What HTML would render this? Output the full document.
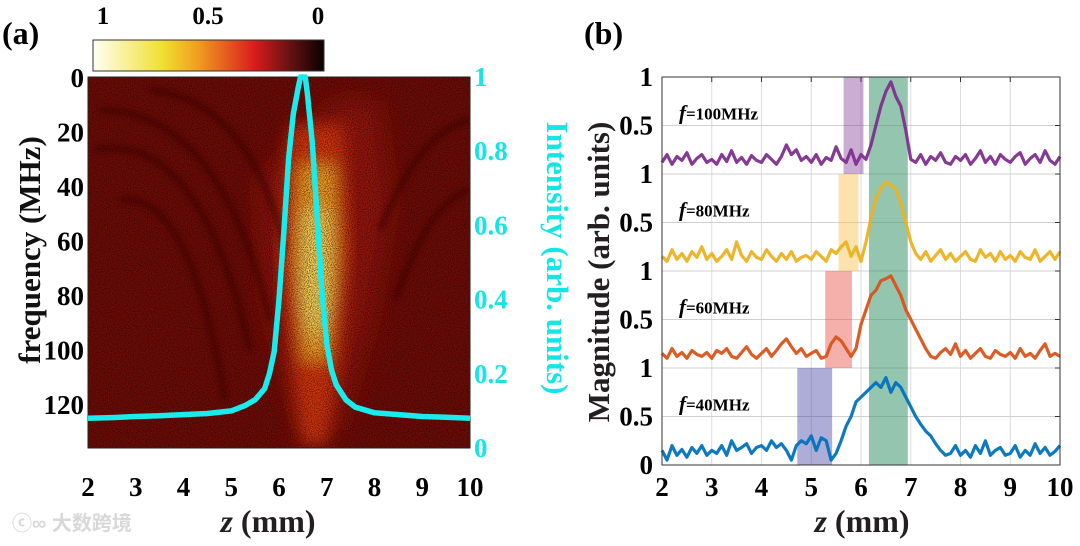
<!DOCTYPE html>
<html><head><meta charset="utf-8">
<style>
html,body{margin:0;padding:0;background:#fff;}
svg{display:block;}
text{font-family:"Liberation Serif","Times New Roman","Tinos","DejaVu Serif",serif;font-weight:bold;}
</style></head>
<body>
<svg id="fig" width="1080" height="546" viewBox="0 0 1080 546">
<defs>
  <linearGradient id="cbar" x1="0" x2="1" y1="0" y2="0">
    <stop offset="0" stop-color="#fffff4"/>
    <stop offset="0.3" stop-color="#f0e030"/>
    <stop offset="0.45" stop-color="#f0a020"/>
    <stop offset="0.7" stop-color="#d81c1c"/>
    <stop offset="0.87" stop-color="#5a1010"/>
    <stop offset="1" stop-color="#0a0000"/>
  </linearGradient>
  <filter id="grain" x="0" y="0" width="1" height="1">
    <feTurbulence type="fractalNoise" baseFrequency="0.95" numOctaves="2" seed="3" result="n"/>
    <feColorMatrix in="n" type="matrix" values="0 0 0 0 0  0 0 0 0 0  0 0 0 0 0  0 0 0 -2.2 1.4" result="a"/>
    <feComposite in="SourceGraphic" in2="a" operator="in"/>
  </filter>
  <filter id="blur8"><feGaussianBlur stdDeviation="8"/></filter>
  <filter id="blur14"><feGaussianBlur stdDeviation="14"/></filter>
  <filter id="blur3"><feGaussianBlur stdDeviation="3"/></filter>
  <clipPath id="clipA"><rect x="88" y="77" width="382" height="371"/></clipPath>
</defs>

<text x="2" y="44" font-size="32">(a)</text>
<rect x="93" y="40" width="231" height="31" fill="url(#cbar)" stroke="#333" stroke-width="1"/>
<g font-size="25" text-anchor="middle">
  <text x="103" y="24">1</text><text x="208" y="24">0.5</text><text x="318" y="24">0</text>
</g>

<g id="heat" clip-path="url(#clipA)">
  <rect x="88" y="77" width="382" height="371" fill="#700d07"/>
  <g filter="url(#blur14)">
    <path d="M335,100 L378,100 L392,200 L372,320 L340,430 L300,430 L265,300 L258,180 Z" fill="#a81c0b" opacity="0.75"/>
  </g>
  <g filter="url(#blur8)">
    <path d="M290,125 L343,125 L350,250 L336,380 L326,445 L302,445 L294,380 L280,250 Z" fill="#d8380e"/>
    <path d="M299,165 L335,165 L338,260 L329,360 L303,360 L295,260 Z" fill="#f5a826"/>
    <path d="M304,210 L328,210 L330,300 L322,335 L309,335 L302,300 Z" fill="#f8e060"/>
  </g>
  <g fill="none" stroke="#3a0503" stroke-width="6" opacity="0.55" filter="url(#blur3)">
    <path d="M95,150 Q200,130 250,350"/>
    <path d="M100,110 Q220,110 270,320"/>
    <path d="M150,90 Q250,100 285,250"/>
    <path d="M120,200 Q190,190 225,400"/>
    <path d="M380,230 Q420,130 470,120"/>
    <path d="M395,300 Q430,200 470,190"/>
  </g>
  <rect x="88" y="77" width="382" height="371" fill="#200000" opacity="0.7" filter="url(#grain)"/>
</g>
<rect x="88" y="77" width="382" height="371" fill="none" stroke="#222" stroke-width="1"/>
<g id="cyanLine"></g>

<g id="axA"></g>
<text transform="translate(40,250) rotate(-90)" font-size="31" text-anchor="middle" fill="#111">frequency (MHz)</text>
<text transform="translate(547,258) rotate(90)" font-size="31" text-anchor="middle" fill="#14e6e6">Intensity (arb. units)</text>
<text x="268" y="532" font-size="32" text-anchor="middle" fill="#231f20"><tspan font-style="italic">z</tspan> (mm)</text>
<text x="12" y="530" font-size="20" fill="#d8d8d8" font-weight="normal" style="font-family:'Liberation Sans','Noto Sans CJK SC',sans-serif">ⓒ∞ 大数跨境</text>

<text x="584" y="44" font-size="32">(b)</text>
<g id="plotB"></g>
<text transform="translate(609,272) rotate(-90)" font-size="31" text-anchor="middle" fill="#231f20">Magnitude (arb. units)</text>
<text x="862" y="532" font-size="32" text-anchor="middle" fill="#231f20"><tspan font-style="italic">z</tspan> (mm)</text>
</svg>

<script>
var zTicks = [2,3,4,5,6,7,8,9,10];
var freqTicks = [0,20,40,60,80,100,120];
var intensityTicks = [0,0.2,0.4,0.6,0.8,1];
var intensityZ = [2,2.5,3,3.5,4,4.5,5,5.3,5.5,5.7,5.8,5.9,6.0,6.1,6.2,6.3,6.4,6.45,6.55,6.6,6.7,6.8,6.9,7.0,7.1,7.2,7.4,7.6,8,8.5,9,9.5,10];
var intensityV = [0.08,0.082,0.085,0.087,0.09,0.093,0.1,0.115,0.13,0.16,0.2,0.26,0.4,0.58,0.78,0.9,0.97,1.0,1.0,0.95,0.82,0.62,0.42,0.28,0.21,0.17,0.13,0.11,0.095,0.09,0.085,0.083,0.08];

var traceLabels = ["100MHz","80MHz","60MHz","40MHz"];
var traceColors = ["#7e2f8e","#edb120","#d95319","#0072bd"];
var magTicks = [0.5,1];
var sampleZ0 = 2, sampleStep = 0.1;
var mag100 = [.12,.2,.1,.18,.14,.22,.1,.16,.2,.12, .15,.1,.2,.13,.24,.12,.17,.1,.19,.14, .12,.2,.15,.1,.18,.3,.2,.25,.14,.18, .12,.2,.1,.17,.14,.28,.16,.12,.25,.1, .2,.15,.3,.5,.7,.85,.95,.8,.7,.45, .15,.12,.2,.1,.18,.14,.22,.12,.1,.18, .14,.2,.1,.16,.24,.12,.18,.1,.2,.15, .12,.18,.22,.1,.16,.2,.12,.24,.14,.1, .18];
var mag80 = [.15,.1,.22,.12,.18,.1,.2,.14,.25,.12, .18,.1,.15,.22,.12,.3,.16,.1,.2,.14, .12,.22,.15,.1,.18,.12,.2,.1,.14,.16, .12,.2,.15,.1,.22,.18,.25,.3,.15,.25, .1,.3,.55,.75,.85,.92,.88,.85,.7,.5, .3,.18,.12,.2,.1,.16,.22,.12,.18,.1, .15,.2,.12,.1,.22,.14,.18,.1,.2,.12, .16,.1,.2,.14,.12,.22,.1,.15,.2,.12, .2];
var mag60 = [.15,.1,.2,.12,.16,.1,.18,.14,.12,.16, .1,.18,.15,.2,.12,.1,.16,.22,.14,.1, .15,.2,.12,.18,.25,.3,.22,.15,.2,.12, .15,.18,.1,.12,.25,.32,.28,.2,.12,.2, .45,.6,.75,.8,.9,.92,.95,.85,.75,.6, .5,.4,.3,.2,.12,.1,.16,.2,.14,.25, .12,.18,.1,.15,.2,.12,.1,.18,.14,.12, .16,.1,.2,.12,.15,.1,.18,.25,.12,.15, .12];
var mag40 = [.15,.05,.2,.1,.16,.08,.18,.12,.2,.1, .15,.12,.2,.1,.25,.15,.18,.22,.12,.18, .2,.15,.25,.18,.22,.15,.05,.2,.25,.22, .3,.15,.28,.25,.05,.12,.25,.4,.5,.65, .7,.75,.8,.85,.8,.9,.75,.85,.8,.7, .6,.5,.42,.35,.3,.22,.15,.1,.12,.2, .1,.15,.08,.2,.12,.25,.1,.15,.18,.1, .12,.2,.08,.15,.1,.22,.12,.18,.1,.14, .2];
var bandStart = [5.65,5.55,5.28,4.72];
var bandEnd = [6.05,5.95,5.82,5.42];
var bandColors = ["rgba(126,47,142,0.4)","rgba(248,190,70,0.45)","rgba(235,80,70,0.45)","rgba(40,40,150,0.38)"];
var commonBand = [6.16,6.94];

var NS = "http://www.w3.org/2000/svg";
function mk(tag, attrs, parent){ var e=document.createElementNS(NS,tag); for(var k in attrs) e.setAttribute(k,attrs[k]); parent.appendChild(e); return e; }
function xA(z){ return 88 + (z-2)*(470-88)/8; }
function yFreq(f){ return 78 + f*(405-78)/120; }
function yInt(v){ return 448 - v*(448-77); }
var bL=662,bR=1060,bT=77,bB=465, bandH=(bB-bT)/4;
function xB(z){ return bL + (z-2)*(bR-bL)/8; }
function yB(i,v){ return bT + bandH*(i+1) - v*bandH; }

var axA=document.getElementById('axA');
zTicks.forEach(function(z){
  var t=mk('text',{x:xA(z),y:496,'text-anchor':'middle','font-size':'27'},axA); t.textContent=z;
  
  
});
freqTicks.forEach(function(f){
  var t=mk('text',{x:84,y:yFreq(f)+9,'text-anchor':'end','font-size':'27'},axA); t.textContent=f;
  
  
});
intensityTicks.forEach(function(v){
  var t=mk('text',{x:474,y:yInt(v)+9,'text-anchor':'start','font-size':'27',fill:'#14e6e6'},axA); t.textContent=v;
  
  
});
var pts=intensityZ.map(function(z,i){return xA(z).toFixed(1)+','+yInt(intensityV[i]).toFixed(1);}).join(' ');
var cl=mk('polyline',{points:pts,fill:'none',stroke:'#18ecec','stroke-width':'5.5','stroke-linejoin':'round'},document.getElementById('cyanLine'));



var gb=document.getElementById('plotB');
zTicks.forEach(function(z){
  var l=mk('line',{x1:xB(z),x2:xB(z),y1:bT,y2:bB,stroke:'#dcdcdc','stroke-width':'1'},gb);
  
  
});
for(var i=0;i<4;i++){
  magTicks.forEach(function(v){
    var l=mk('line',{x1:bL,x2:bR,y1:yB(i,v),y2:yB(i,v),stroke:'#d0d0d0','stroke-width':'1'},gb);
    
    
  });
}
var cb=mk('rect',{x:xB(commonBand[0]),y:bT,width:xB(commonBand[1])-xB(commonBand[0]),height:bB-bT,fill:'rgba(60,150,110,0.55)'},gb);


bandStart.forEach(function(s,i){
  var r=mk('rect',{x:xB(s),y:yB(i,1),width:xB(bandEnd[i])-xB(s),height:bandH,fill:bandColors[i]},gb);
  
  
});
var series=[mag100,mag80,mag60,mag40];
series.forEach(function(arr,i){
  var p=arr.map(function(v,k){return xB(sampleZ0+k*sampleStep).toFixed(1)+','+yB(i,v).toFixed(1);}).join(' ');
  var pl=mk('polyline',{points:p,fill:'none',stroke:traceColors[i],'stroke-width':'3.2','stroke-linejoin':'round',opacity:'0.95'},gb);
  
  
  var t=mk('text',{x:679,y:yB(i,0.56),'font-size':'17'},gb);
  t.innerHTML='<tspan font-style="italic" font-size="21">f</tspan>='+traceLabels[i];
  
  
  magTicks.forEach(function(v){
    var tt=mk('text',{x:653,y:yB(i,v)+9,'text-anchor':'end','font-size':'27'},gb); tt.textContent=v;
    
    
    mk('line',{x1:bR-5,x2:bR,y1:yB(i,v),y2:yB(i,v),stroke:'#333'},gb);
  });
});
var t0=mk('text',{x:653,y:bB+9,'text-anchor':'end','font-size':'27'},gb); t0.textContent='0';


zTicks.forEach(function(z){
  var t=mk('text',{x:xB(z),y:496,'text-anchor':'middle','font-size':'27'},gb); t.textContent=z;
  
  
  mk('line',{x1:xB(z),x2:xB(z),y1:bT,y2:bT+5,stroke:'#333'},gb);
});
var fr=mk('rect',{x:bL,y:bT,width:bR-bL,height:bB-bT,fill:'none',stroke:'#333','stroke-width':'1'},gb);


</script>
</body></html>
